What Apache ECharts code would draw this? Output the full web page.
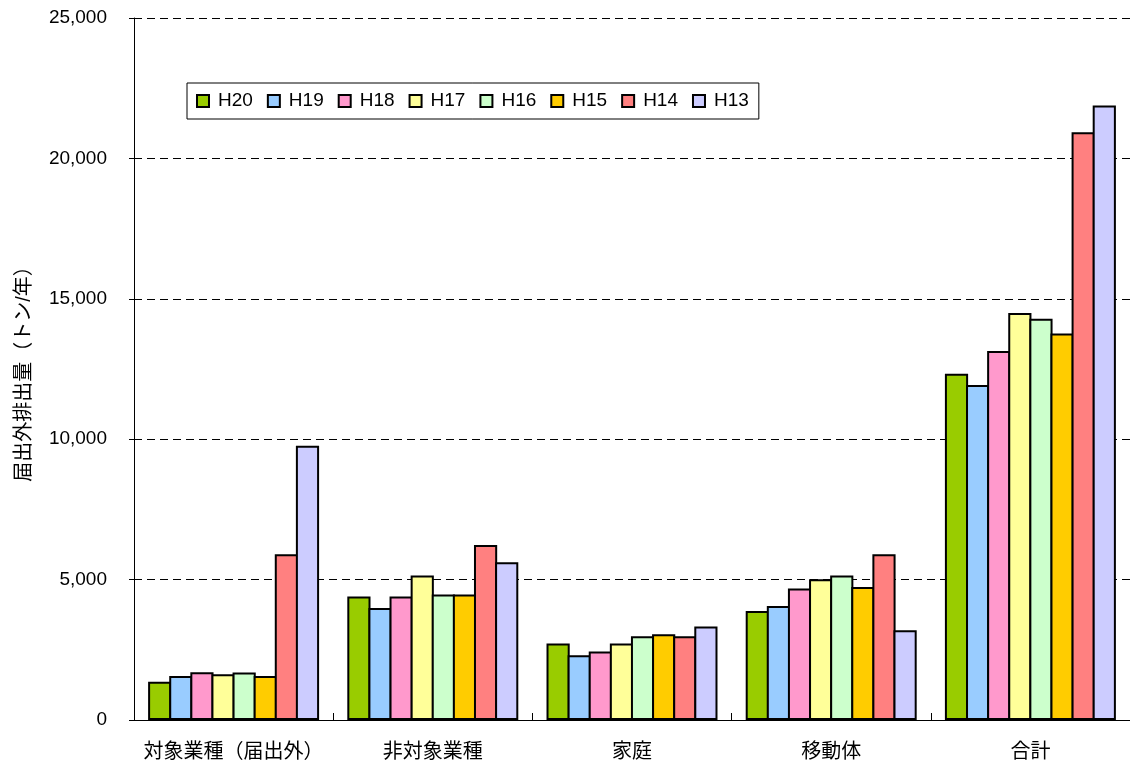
<!DOCTYPE html>
<html>
<head>
<meta charset="utf-8">
<script src="https://cdn.jsdelivr.net/npm/echarts@6/dist/echarts.min.js"></script>
<style>
html,body{margin:0;padding:0;background:#fff;}
#chart{width:1130px;height:765px;}
</style>
</head>
<body>
<div id="chart"></div>
<script>
const categories = ['対象業種（届出外）', '非対象業種', '家庭', '移動体', '合計'];
const seriesNames = ['H20', 'H19', 'H18', 'H17', 'H16', 'H15', 'H14', 'H13'];
const H20 = [1360, 4400, 2720, 3880, 12330];
const H19 = [1570, 3990, 2310, 4060, 11930];
const H18 = [1700, 4400, 2440, 4680, 13140];
const H17 = [1630, 5150, 2720, 5010, 14490];
const H16 = [1690, 4470, 2980, 5150, 14290];
const H15 = [1570, 4470, 3050, 4740, 13760];
const H14 = [5900, 6230, 2980, 5900, 20930];
const H13 = [9770, 5620, 3330, 3200, 21880];
const seriesValues = [H20, H19, H18, H17, H16, H15, H14, H13];
const colors = ['#99CC00', '#99CCFF', '#FF99CC', '#FFFF99', '#CCFFCC', '#FFCC00', '#FF8080', '#CCCCFF'];
const yTicks = { min: 0, max: 25000, interval: 5000 };
const yAxisName = '届出外排出量（トン/年）';

const FONT = "'Liberation Sans', 'Noto Sans CJK JP', sans-serif";
const chart = echarts.init(document.getElementById('chart'), null, { renderer: 'canvas' });

const option = {
  backgroundColor: '#ffffff',
  animation: false,
  color: colors,
  grid: { left: 134, top: 18, width: 1004, height: 702, containLabel: false },
  legend: {
    data: seriesNames,
    left: 187,
    top: 83,
    orient: 'horizontal',
    padding: [8, 10, 8, 9],
    itemWidth: 12,
    itemHeight: 12,
    itemGap: 14,
    icon: 'rect',
    borderColor: '#000',
    borderWidth: 1,
    backgroundColor: '#fff',
    itemStyle: { borderColor: '#000', borderWidth: 2 },
    textStyle: { fontFamily: FONT, fontSize: 19, color: '#000', padding: [0, 0, 0, 4], lineHeight: 20 }
  },
  xAxis: {
    type: 'category',
    data: categories,
    boundaryGap: true,
    axisLine: { show: true, lineStyle: { color: '#000', width: 1 } },
    axisTick: { show: true, inside: true, length: 7, interval: 0, lineStyle: { color: '#000', width: 1 } },
    axisLabel: { interval: 0, fontFamily: FONT, fontSize: 20, color: '#000', margin: 22 },
    splitLine: { show: false }
  },
  yAxis: {
    type: 'value',
    min: yTicks.min,
    max: yTicks.max,
    interval: yTicks.interval,
    name: yAxisName,
    nameLocation: 'middle',
    nameRotate: 90,
    nameGap: 100,
    nameTextStyle: { fontFamily: FONT, fontSize: 20, color: '#000' },
    axisLine: { show: true, lineStyle: { color: '#000', width: 1 } },
    axisTick: { show: true, inside: false, length: 5, lineStyle: { color: '#000' } },
    axisLabel: {
      fontFamily: FONT, fontSize: 19, color: '#000', margin: 27,
      formatter: v => v.toLocaleString('en-US')
    },
    splitLine: { show: true, lineStyle: { color: '#000', width: 1, type: [8, 5] } }
  },
  series: seriesNames.map((name, i) => ({
    name: name,
    type: 'bar',
    data: seriesValues[i],
    barGap: '-9%',
    barWidth: 23.2,
    itemStyle: { color: colors[i], borderColor: '#000', borderWidth: 2 }
  }))
};
chart.setOption(option);
</script>
</body>
</html>
